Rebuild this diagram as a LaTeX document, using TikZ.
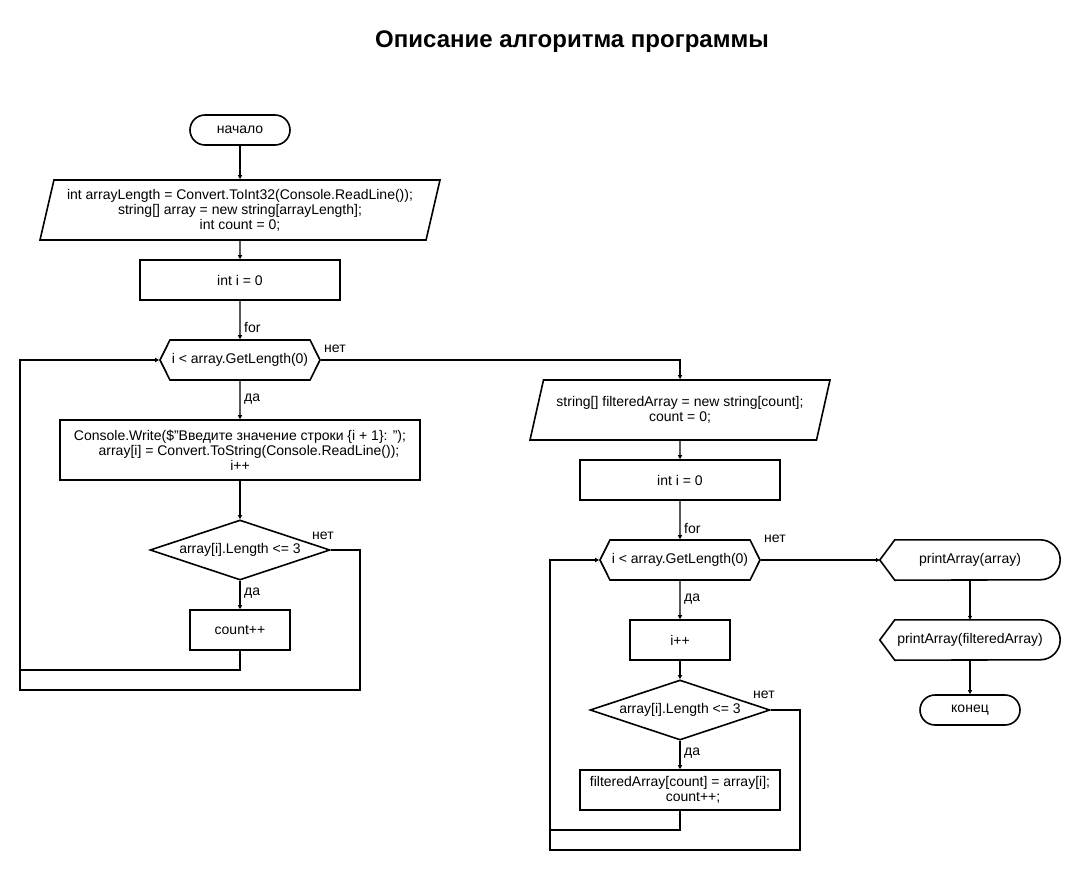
\documentclass[tikz,border=0pt]{standalone}
\usepackage{fontspec}
\setmainfont{Liberation Sans}
\usetikzlibrary{shapes.geometric,shapes.symbols,arrows.meta}
\tikzset{
    every node/.style = {
        font=\fontsize{14}{15}\selectfont,
        align=center
    },
    title/.style = {
        font=\fontsize{24}{28}\selectfont\bfseries
    },
    start/.style = {
        draw,
        line width=1.6pt,
        rounded corners=15pt,
        minimum width=100pt,
        minimum height=30pt
    },
    data/.style = {
        draw,
        line width=1.6pt,
        trapezium,
        trapezium stretches body=true,
        trapezium left angle=#1,
        trapezium right angle=180-#1,
        minimum height=60pt,
        inner sep=0pt
    },
    box/.style = {
        draw,
        line width=1.6pt,
        minimum height=40pt
    },
    loop/.style = {
        draw,
        line width=1.6pt,
        signal,
        signal to=west and east,
        signal pointer angle=127,
        minimum width=160pt,
        minimum height=40pt,
        inner sep=0pt
    },
    cond/.style = {
        draw,
        line width=1.6pt,
        diamond,
        aspect=3,
        inner sep=0pt,
        minimum width=180pt,
        minimum height=60pt
    },
    show/.style = {
        minimum width=180pt,
        minimum height=40pt
    },
    outline/.style = {
        line width=1.6pt
    },
    line/.style = {
        line width=1.2pt
    },
    arrow/.style = {
        line width=1.2pt,
        -{Triangle[length=4pt,width=4pt]}
    },
    tag/.style = {
        anchor=west,
        inner sep=0pt
    }
}
\begin{document}
\begin{tikzpicture}[x=1pt,y=-1pt]
    \useasboundingbox (0,0) rectangle (1080,870);
    \node[title] (head) at (572,42) {Описание алгоритма программы};

    % Fill the array
    \node[start] (begin) at (240,130) {начало};
    \node[data=71.6, minimum width=400pt] (input) at (240,210)
        {int arrayLength = Convert.ToInt32(Console.ReadLine());\\
         string[] array = new string[arrayLength];\\
         int count = 0;};
    \node[box, minimum width=200pt] (init1) at (240,280) {int i = 0};
    \node[loop] (for1) at (240,360) {i < array.GetLength(0)};
    \node[box, minimum width=360pt, minimum height=60pt] (read) at (240,450)
        {Console.Write(\$"Введите значение строки \{i + 1\}: ");\\
         \hspace*{18pt}array[i] = Convert.ToString(Console.ReadLine());\\
         i++};
    \node[cond] (check1) at (240,550) {array[i].Length <= 3};
    \node[box, minimum width=100pt] (inc1) at (240,630) {count++};

    % Copy the short strings
    \node[data=63.4, minimum width=300pt] (alloc) at (680,410)
        {string[] filteredArray = new string[count];\\
         count = 0;};
    \node[box, minimum width=200pt] (init2) at (680,480) {int i = 0};
    \node[loop] (for2) at (680,560) {i < array.GetLength(0)};
    \node[box, minimum width=100pt] (inc2) at (680,640) {i++};
    \node[cond] (check2) at (680,710) {array[i].Length <= 3};
    \node[box, minimum width=200pt] (copy) at (680,790)
        {filteredArray[count] = array[i];\\
         \hspace*{26pt}count++;};

    % Output
    \node[show] (print1) at (970,560) {printArray(array)};
    \node[show] (print2) at (970,640) {printArray(filteredArray)};
    \node[start] (finish) at (970,710) {конец};
    \foreach \n in {print1,print2}
        \draw[outline] (\n.west) -- ([xshift=15pt]\n.north west)
            -- ([xshift=-20pt]\n.north east) arc[start angle=90,end angle=-90,radius=20pt]
            -- ([xshift=15pt]\n.south west) -- cycle;

    % Draw labels
    \node[tag] (for1txt) at (244,328) {for};
    \node[tag] (no1txt) at (324,349) {нет};
    \node[tag] (yes1txt) at (244,399) {да};
    \node[tag] (no2txt) at (312,536) {нет};
    \node[tag] (yes2txt) at (244,593) {да};
    \node[tag] (for2txt) at (684,528) {for};
    \node[tag] (no3txt) at (764,539) {нет};
    \node[tag] (yes3txt) at (684,599) {да};
    \node[tag] (no4txt) at (753,695) {нет};
    \node[tag] (yes4txt) at (684,753) {да};

    % Loop corners
    \coordinate (back1) at (20,670);
    \coordinate (skip1) at (360,690);
    \coordinate (back2) at (550,830);
    \coordinate (skip2) at (800,850);

    % Draw arrows
    \draw[arrow] (begin) -- (input);
    \draw[arrow] (input) -- (init1);
    \draw[arrow] (init1) -- (for1);
    \draw[arrow] (for1) -- (read);
    \draw[arrow] (read) -- (check1);
    \draw[arrow] (check1) -- (inc1);
    \draw[arrow] (inc1.south) |- (back1) |- (for1.west);
    \draw[line] (check1.east) -| (skip1) -- (skip1 -| back1) -- (back1);
    \draw[arrow] (for1.east) -| (alloc.north);
    %
    \draw[arrow] (alloc) -- (init2);
    \draw[arrow] (init2) -- (for2);
    \draw[arrow] (for2) -- (inc2);
    \draw[arrow] (inc2) -- (check2);
    \draw[arrow] (check2) -- (copy);
    \draw[arrow] (copy.south) |- (back2) |- (for2.west);
    \draw[line] (check2.east) -| (skip2) -- (skip2 -| back2) -- (back2);
    %
    \draw[arrow] (for2.east) -- (print1.west);
    \draw[arrow] (print1) -- (print2);
    \draw[arrow] (print2) -- (finish);
\end{tikzpicture}
\end{document}
